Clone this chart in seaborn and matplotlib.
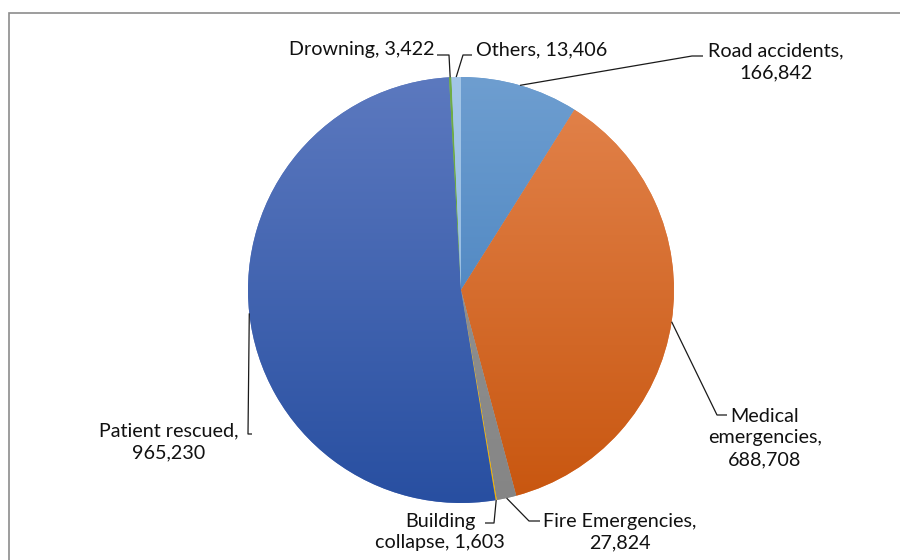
import numpy as np
import matplotlib
matplotlib.use("Agg")
import matplotlib.pyplot as plt
import matplotlib.patches as mpatches
from matplotlib.colors import LinearSegmentedColormap
import seaborn as sns

# ---- data ----
categories = ["Road accidents", "Medical emergencies", "Fire Emergencies",
              "Building collapse", "Patient rescued", "Drowning", "Others"]
values = [166842, 688708, 27824, 1603, 965230, 3422, 13406]
label_texts = ["Road accidents,\n166,842", "Medical\nemergencies,\n688,708",
               "Fire Emergencies,\n27,824", "Building\ncollapse, 1,603",
               "Patient rescued,\n965,230", "Drowning, 3,422", "Others, 13,406"]
# gradient colours (top, bottom)
grad_top = ["#6E9ED0", "#E3844D", "#999999", "#FFC000", "#5C79BF", "#70AD47", "#A3C6E8"]
grad_bot = ["#3876B8", "#C8560F", "#858585", "#F0B000", "#284FA1", "#5E9A38", "#8DB6DE"]

# ---- layout (pixels, y measured from top) ----
W, H = 900, 560
cx, cy, R = 461, 290, 213
label_pos = [(776, 62), (765, 438), (620, 532), (440, 532), (169, 442), (362, 50), (542, 50)]
elbows = [[(692, 56), (703, 56)], [(717, 415), (727, 415)], [(529, 521), (540, 521)],
          [(494, 523), (485, 523)], [(248, 434), (252, 434)], [(449, 55), (437, 55)],
          [(463, 55), (472, 55)]]

sns.set_theme(style="white")
plt.rcParams['font.family'] = ['Lato', 'DejaVu Sans']

fig = plt.figure(figsize=(W / 100, H / 100), dpi=100)
ax = fig.add_axes([0, 0, 1, 1])

wedges, _ = ax.pie(values, center=(cx, H - cy), radius=R, startangle=90,
                   counterclock=False, colors=grad_top,
                   wedgeprops=dict(linewidth=0))
ax.set_xlim(0, W)
ax.set_ylim(0, H)
ax.set_aspect('auto')
ax.axis('off')

# gradient fill clipped to each wedge
grad = np.linspace(1, 0, 256).reshape(-1, 1)
for w, ct, cb in zip(wedges, grad_top, grad_bot):
    cmap = LinearSegmentedColormap.from_list("g", [cb, ct])
    im = ax.imshow(grad, cmap=cmap, extent=(cx - R, cx + R, H - cy - R, H - cy + R),
                   aspect='auto', origin='upper', zorder=2, interpolation='bilinear')
    im.set_clip_path(w)
ax.set_xlim(0, W)
ax.set_ylim(0, H)

# labels + leader lines
for w, txt, (lx, ly), el in zip(wedges, label_texts, label_pos, elbows):
    mid = np.deg2rad((w.theta1 + w.theta2) / 2)
    px = cx + R * np.cos(mid)
    py = (H - cy) + R * np.sin(mid)
    xs = [px] + [e[0] for e in el]
    ys = [py] + [H - e[1] for e in el]
    ax.plot(xs, ys, color="#1a1a1a", lw=0.9, zorder=3, solid_capstyle='butt')
    ax.text(lx, H - ly, txt, ha='center', va='center', fontsize=14.2,
            color="#111111", linespacing=1.32, zorder=4)

# chart frame (cropped on the right and bottom)
ax.add_patch(mpatches.Rectangle((9, -20), W, H - 13 + 20, fill=False,
                                edgecolor="#8c8c8c", lw=1.2, zorder=1))

fig.savefig("out.png", dpi=100)
